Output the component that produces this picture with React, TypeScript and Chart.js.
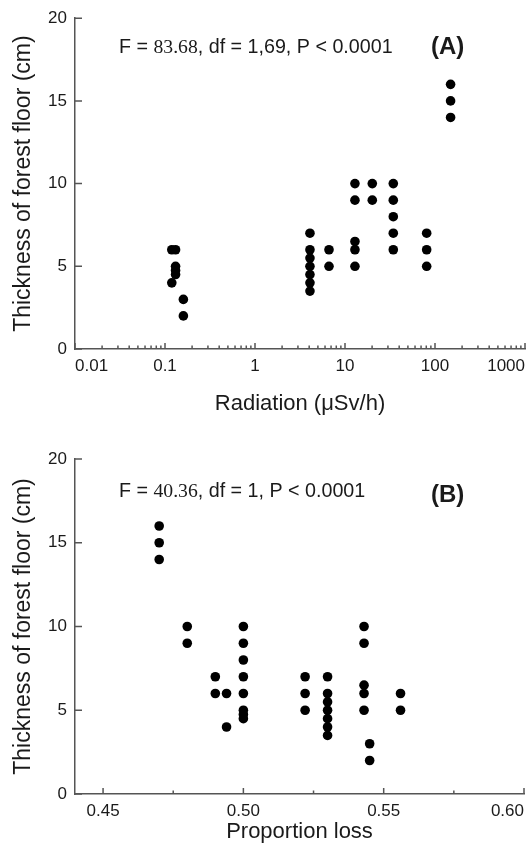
import React, { useEffect, useRef } from 'react';
import { Chart, registerables } from 'chart.js';

Chart.register(...registerables);

// ---------- data ----------
const radiationA = [
  0.119, 0.131, 0.131, 0.131, 0.131, 0.119, 0.16, 0.16,
  4.08, 4.08, 4.08, 4.08, 4.08, 4.08, 4.08,
  6.64, 6.64,
  12.9, 12.9, 12.9, 12.9, 12.9,
  20.1, 20.1,
  34.4, 34.4, 34.4, 34.4, 34.4,
  80.8, 80.8, 80.8,
  149, 149, 149,
];
const thicknessA = [
  6, 6, 5, 4.75, 4.5, 4, 3, 2,
  7, 6, 5.5, 5, 4.5, 4, 3.5,
  6, 5,
  10, 9, 6.5, 6, 5,
  10, 9,
  10, 9, 8, 7, 6,
  7, 6, 5,
  16, 15, 14,
];

const lossB = [
  0.47, 0.47, 0.47,
  0.48, 0.48,
  0.49, 0.49,
  0.494, 0.494,
  0.5, 0.5, 0.5, 0.5, 0.5, 0.5, 0.5, 0.5,
  0.522, 0.522, 0.522,
  0.53, 0.53, 0.53, 0.53, 0.53, 0.53, 0.53,
  0.543, 0.543, 0.543, 0.543, 0.543,
  0.545, 0.545,
  0.556, 0.556,
];
const thicknessB = [
  16, 15, 14,
  10, 9,
  7, 6,
  6, 4,
  10, 9, 8, 7, 6, 5, 4.75, 4.5,
  7, 6, 5,
  7, 6, 5.5, 5, 4.5, 4, 3.5,
  10, 9, 6.5, 6, 5,
  3, 2,
  6, 5,
];

const yTicks = [0, 5, 10, 15, 20];
const radiationTicks = [0.01, 0.1, 1, 10, 100, 1000];
const radiationTickLabels = ['0.01', '0.1', '1', '10', '100', '1000'];
const radiationMinorMultipliers = [2, 3, 4, 5, 6, 7, 8, 9];
const lossMin = 0.44;
const lossMax = 0.6;
const lossTicks = [0.45, 0.5, 0.55, 0.6];
const lossTickLabels = ['0.45', '0.50', '0.55', '0.60'];
const lossMinorTicks = [0.475, 0.525, 0.575];

const yTitle = 'Thickness of forest floor (cm)';
const xTitleA = 'Radiation (μSv/h)';
const xTitleB = 'Proportion loss';
const statsA: [string, string][] = [['F = ', 'sans'], ['83.68', 'serif'], [', df = 1,69, P < 0.0001', 'sans']];
const statsB: [string, string][] = [['F = ', 'sans'], ['40.36', 'serif'], [', df = 1, P < 0.0001', 'sans']];
const panelA = '(A)';
const panelB = '(B)';

// ---------- styles ----------
const SANS = '"Liberation Sans", Arial, Helvetica, sans-serif';
const SERIF = '"Liberation Serif", "Times New Roman", serif';
const AXIS = '#555555';
const TEXT = '#1a1a1a';

const radiationMinor: number[] = [];
for (let i = 0; i < radiationTicks.length - 1; i++) {
  for (const m of radiationMinorMultipliers) radiationMinor.push(radiationTicks[i] * m);
}

function makePlugin(opts: {
  xMajor: number[];
  xMinor: number[];
  stats: [string, string][];
  statsX: number;
  statsY: number;
  panel: string;
  panelX: number;
  panelY: number;
}) {
  return {
    id: 'inwardTicksAndText',
    afterDraw(chart: any) {
      const ctx = chart.ctx;
      const xs = chart.scales.x;
      const ys = chart.scales.y;
      const a = chart.chartArea;
      ctx.save();
      ctx.strokeStyle = AXIS;
      ctx.lineWidth = 1.5;
      ctx.beginPath();
      for (const v of opts.xMajor) {
        const px = xs.getPixelForValue(v);
        ctx.moveTo(px, a.bottom);
        ctx.lineTo(px, a.bottom - 6);
      }
      for (const v of opts.xMinor) {
        const px = xs.getPixelForValue(v);
        ctx.moveTo(px, a.bottom);
        ctx.lineTo(px, a.bottom - 3.5);
      }
      for (const v of yTicks) {
        const py = ys.getPixelForValue(v);
        ctx.moveTo(a.left, py);
        ctx.lineTo(a.left + 7, py);
      }
      ctx.stroke();

      // statistics text
      ctx.fillStyle = TEXT;
      ctx.textBaseline = 'alphabetic';
      ctx.textAlign = 'left';
      let x = opts.statsX;
      for (const [s, kind] of opts.stats) {
        ctx.font = kind === 'serif' ? `19.7px ${SERIF}` : `19.7px ${SANS}`;
        ctx.fillText(s, x, opts.statsY);
        x += ctx.measureText(s).width;
      }
      ctx.font = `bold 24px ${SANS}`;
      ctx.fillText(opts.panel, opts.panelX, opts.panelY);
      ctx.restore();
    },
  };
}

function baseOptions(xScale: any, padding: any, xHeight: number) {
  return {
    responsive: false,
    maintainAspectRatio: false,
    animation: false,
    layout: { padding },
    plugins: { legend: { display: false }, tooltip: { enabled: false } },
    scales: {
      x: {
        ...xScale,
        grid: { display: false, drawTicks: false },
        border: { display: true, color: AXIS, width: 1.5 },
        ticks: {
          ...(xScale.ticks || {}),
          align: 'inner',
          padding: 7,
          color: TEXT,
          font: { size: 17, family: SANS },
          maxRotation: 0,
          autoSkip: false,
        },
        afterFit: (s: any) => {
          s.height = xHeight;
          s.paddingLeft = 0;
          s.paddingRight = 0;
        },
      },
      y: {
        type: 'linear',
        min: 0,
        max: 20,
        afterBuildTicks: (s: any) => {
          s.ticks = yTicks.map((v) => ({ value: v }));
        },
        grid: { display: false, drawTicks: false },
        border: { display: true, color: AXIS, width: 1.5 },
        ticks: {
          padding: 8,
          color: TEXT,
          font: { size: 17, family: SANS },
          callback: (v: any) => String(v),
        },
        title: {
          display: true,
          text: yTitle,
          color: TEXT,
          font: { size: 23, family: SANS },
          padding: { top: 10, bottom: 0 },
        },
        afterFit: (s: any) => {
          s.width = 75;
        },
      },
    },
  };
}

export default function App() {
  const refA = useRef<HTMLCanvasElement>(null);
  const refB = useRef<HTMLCanvasElement>(null);

  useEffect(() => {
    const chartA = new Chart(refA.current as HTMLCanvasElement, {
      type: 'scatter',
      data: {
        datasets: [
          {
            data: radiationA.map((x, i) => ({ x, y: thicknessA[i] })),
            backgroundColor: '#000',
            borderWidth: 0,
            pointRadius: 4.8,
          },
        ],
      },
      options: baseOptions(
        {
          type: 'logarithmic',
          min: radiationTicks[0],
          max: radiationTicks[radiationTicks.length - 1],
          afterBuildTicks: (s: any) => {
            s.ticks = radiationTicks.map((v) => ({ value: v }));
          },
          ticks: { callback: (_v: any, i: number) => radiationTickLabels[i] },
          title: {
            display: true,
            text: xTitleA,
            color: TEXT,
            font: { size: 22, family: SANS },
            padding: { top: 0, bottom: 8 },
          },
        },
        { top: 15, left: 0, right: 6, bottom: 0 },
        76
      ) as any,
      plugins: [
        makePlugin({
          xMajor: radiationTicks,
          xMinor: radiationMinor,
          stats: statsA,
          statsX: 119,
          statsY: 53,
          panel: panelA,
          panelX: 431,
          panelY: 54,
        }),
      ],
    });

    // first (axis-minimum) tick carries an empty label so that 0.45 stays centred
    const lossScaleTicks = [lossMin, ...lossTicks];
    const lossScaleLabels = ['', ...lossTickLabels];

    const chartB = new Chart(refB.current as HTMLCanvasElement, {
      type: 'scatter',
      data: {
        datasets: [
          {
            data: lossB.map((x, i) => ({ x, y: thicknessB[i] })),
            backgroundColor: '#000',
            borderWidth: 0,
            pointRadius: 4.8,
          },
        ],
      },
      options: baseOptions(
        {
          type: 'linear',
          min: lossMin,
          max: lossMax,
          afterBuildTicks: (s: any) => {
            s.ticks = lossScaleTicks.map((v) => ({ value: v }));
          },
          ticks: { callback: (_v: any, i: number) => lossScaleLabels[i] },
          title: {
            display: true,
            text: xTitleB,
            color: TEXT,
            font: { size: 22, family: SANS },
            padding: { top: 0, bottom: 8 },
          },
        },
        { top: 34, left: 0, right: 7, bottom: 0 },
        59
      ) as any,
      plugins: [
        makePlugin({
          xMajor: lossTicks,
          xMinor: lossMinorTicks,
          stats: statsB,
          statsX: 119,
          statsY: 72,
          panel: panelB,
          panelX: 431,
          panelY: 77,
        }),
      ],
    });

    return () => {
      chartA.destroy();
      chartB.destroy();
    };
  }, []);

  return (
    <div style={{ position: 'absolute', left: 0, top: 0, width: 531, height: 853, background: '#fff' }}>
      <canvas ref={refA} width={531} height={425} style={{ position: 'absolute', left: 0, top: 0, display: 'block' }} />
      <canvas ref={refB} width={531} height={428} style={{ position: 'absolute', left: 0, top: 425, display: 'block' }} />
    </div>
  );
}
